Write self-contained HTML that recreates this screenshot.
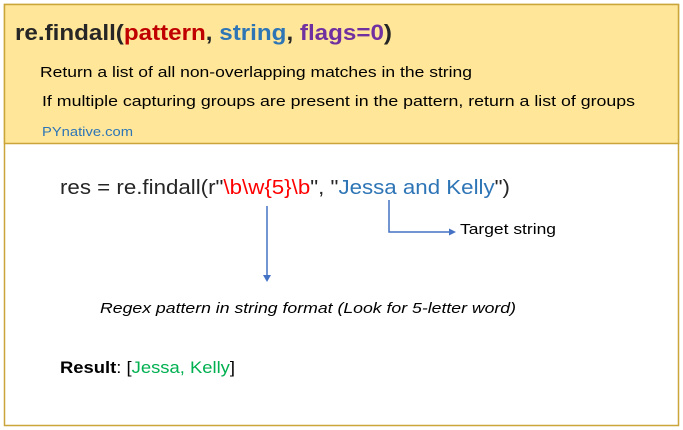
<!DOCTYPE html>
<html><head><style>body{margin:0;background:#fff}svg{display:block}</style></head><body>
<svg width="683" height="430" xmlns="http://www.w3.org/2000/svg" font-family="Liberation Sans, sans-serif">
<rect x="4.5" y="4.5" width="674" height="421" fill="#fff" stroke="#c9a53a" stroke-width="1.5"/>
<rect x="4.5" y="4.5" width="674" height="139" fill="#ffe699" stroke="#c9a53a" stroke-width="1.5"/>
<text x="15" y="40" font-size="22" font-weight="bold" fill="#262626" textLength="377" lengthAdjust="spacingAndGlyphs">re.findall(<tspan fill="#c00000">pattern</tspan>, <tspan fill="#2e75b6">string</tspan>, <tspan fill="#7030a0">flags=0</tspan>)</text>
<text x="40" y="77" font-size="15" fill="#000" textLength="432" lengthAdjust="spacingAndGlyphs">Return a list of all non-overlapping matches in the string</text>
<text x="42" y="106" font-size="15" fill="#000" textLength="593" lengthAdjust="spacingAndGlyphs">If multiple capturing groups are present in the pattern, return a list of groups</text>
<text x="42" y="136" font-size="13" fill="#2e75b6" textLength="91" lengthAdjust="spacingAndGlyphs">PYnative.com</text>
<text x="60" y="194" font-size="20" fill="#262626" textLength="450" lengthAdjust="spacingAndGlyphs">res = re.findall(r"<tspan fill="#ff0000">\b\w{5}\b</tspan>", "<tspan fill="#2e75b6">Jessa and Kelly</tspan>")</text>
<g stroke="#4472c4" stroke-width="1.5" fill="none">
<line x1="267" y1="206" x2="267" y2="276"/>
<polyline points="389,200 389,232 450,232"/>
</g>
<polygon points="263,275 271,275 267,282" fill="#4472c4"/>
<polygon points="449,228.5 456,232 449,235.5" fill="#4472c4"/>
<text x="460" y="234" font-size="15" fill="#000" textLength="96" lengthAdjust="spacingAndGlyphs">Target string</text>
<text x="100" y="313" font-size="15" font-style="italic" fill="#000" textLength="416" lengthAdjust="spacingAndGlyphs">Regex pattern in string format (Look for 5-letter word)</text>
<text x="60" y="373" font-size="17" fill="#000" textLength="175" lengthAdjust="spacingAndGlyphs"><tspan font-weight="bold">Result</tspan>: [<tspan fill="#00b050">Jessa, Kelly</tspan>]</text>
</svg>
</body></html>
